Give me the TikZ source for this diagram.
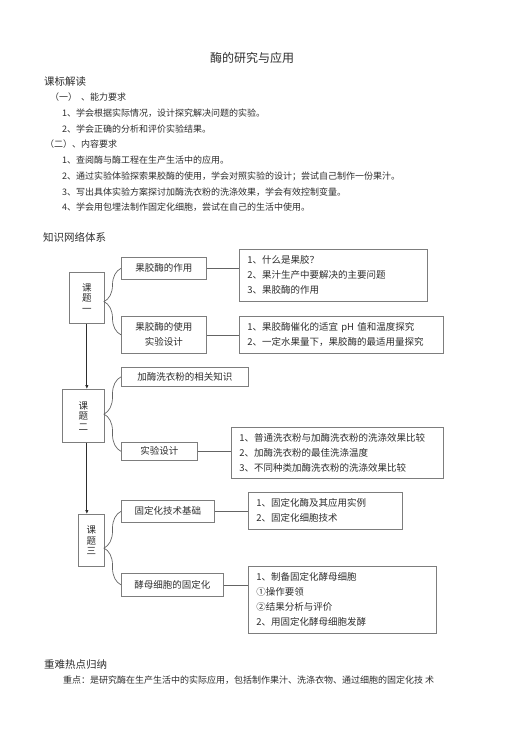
\documentclass[tikz,border=0pt]{standalone}
\usepackage{fontspec}
\newfontfamily\cjk{Noto Sans CJK SC}
\usetikzlibrary{arrows.meta,decorations.pathreplacing}
\definecolor{frame}{RGB}{125,125,125}
\definecolor{ink}{RGB}{45,45,45}
\tikzset{
  >={Latex[length=4pt,width=3.5pt]},
  box/.style={draw=frame,line width=0.7pt,font=\cjk\fontsize{9.5}{15}\selectfont,text=ink,
    align=center,anchor=north west,inner sep=0pt},
  list/.style={box,align=left,inner xsep=8pt},
  topic/.style={box,font=\cjk\fontsize{9.5}{10.5}\selectfont},
  link/.style={draw=frame!80!black,line width=0.7pt},
  curly/.style={link,decorate,decoration={brace,amplitude=17pt}},
  flow/.style={->,draw=ink,line width=0.8pt},
  txt/.style={font=\cjk\fontsize{9}{10}\selectfont,text=ink,anchor=west,inner sep=0pt},
  head/.style={font=\cjk\fontsize{10.5}{12}\selectfont,text=ink,anchor=west,inner sep=0pt},
}

\begin{document}
\begin{tikzpicture}[x=1pt,y=-1pt]
  \useasboundingbox (0,0) rectangle (506,745);
  % text above
  \node[font=\cjk\fontsize{12}{14}\selectfont,text=ink] (title) at (252,58) {酶的研究与应用};
  \node[head] (h1) at (44,82) {课标解读};
  \node[txt] (s1) at (50,97) {（一）\ \ 、能力要求};
  \node[txt] (s11) at (62,113) {1、学会根据实际情况，设计探究解决问题的实验。};
  \node[txt] (s12) at (62,129) {2、学会正确的分析和评价实验结果。};
  \node[txt] (s2) at (45,144) {（二）、内容要求};
  \node[txt] (s21) at (62,160) {1、查阅酶与酶工程在生产生活中的应用。};
  \node[txt] (s22) at (62,176) {2、通过实验体验探索果胶酶的使用，学会对照实验的设计；尝试自己制作一份果汁。};
  \node[txt] (s23) at (62,192) {3、写出具体实验方案探讨加酶洗衣粉的洗涤效果，学会有效控制变量。};
  \node[txt] (s24) at (62,207) {4、学会用包埋法制作固定化细胞，尝试在自己的生活中使用。};
  \node[head] (h2) at (43,237) {知识网络体系};

  % topic one
  \node[topic,minimum width=35,minimum height=51] (t1) at (69,272) {课\\题\\一};
  \node[box,minimum width=85,minimum height=22] (p1) at (121,257) {果胶酶的作用};
  \node[box,minimum width=85,minimum height=37] (p2) at (121,316) {果胶酶的使用\\实验设计};
  \node[list,text width=172,minimum height=52] (p1d) at (239,249)
    {1、什么是果胶？\\2、果汁生产中要解决的主要问题\\3、果胶酶的作用};
  \node[list,text width=188,minimum height=37] (p2d) at (239,316)
    {1、果胶酶催化的适宜 pH 值和温度探究\\2、一定水果量下，果胶酶的最适用量探究};
  \draw[curly] (p2.west) -- (p1.west);
  \draw[link] (p1.east) -- (p1.east -| p1d.west);
  \draw[link] (p2.east) -- (p2.east -| p2d.west);

  % topic two
  \node[topic,minimum width=42,minimum height=53] (t2) at (62,389) {课\\题\\二};
  \node[box,minimum width=127,minimum height=19] (w1) at (121,367) {加酶洗衣粉的相关知识};
  \node[box,minimum width=76,minimum height=18] (w2) at (121,442) {实验设计};
  \node[list,text width=196,minimum height=51] (w2d) at (231,427)
    {1、普通洗衣粉与加酶洗衣粉的洗涤效果比较\\2、加酶洗衣粉的最佳洗涤温度\\3、不同种类加酶洗衣粉的洗涤效果比较};
  \draw[curly] (w2.west) -- (w1.west);
  \draw[link] (w2.east) -- (w2.east -| w2d.west);

  % topic three
  \node[topic,minimum width=26,minimum height=52] (t3) at (78,514) {课\\题\\三};
  \node[box,minimum width=93,minimum height=22] (g1) at (121,500) {固定化技术基础};
  \node[box,minimum width=102,minimum height=23] (g2) at (121,573) {酵母细胞的固定化};
  \node[list,text width=138,minimum height=37] (g1d) at (248,492)
    {1、固定化酶及其应用实例\\2、固定化细胞技术};
  \node[list,text width=172,minimum height=67] (g2d) at (248,566)
    {1、制备固定化酵母细胞\\①操作要领\\②结果分析与评价\\2、用固定化酵母细胞发酵};
  \draw[curly] (g2.west) -- (g1.west);
  \draw[link] (g1.east) -- (g1.east -| g1d.west);
  \draw[link] (g2.east) -- (g2.east -| g2d.west);

  \draw[flow] (t1.south) -- (t1.south |- t2.north);
  \draw[flow] (t1.south |- t2.south) -- (t1.south |- t3.north);

  % text below
  \node[head] (h3) at (44,665) {重难热点归纳};
  \node[txt] (k1) at (63,680) {重点：是研究酶在生产生活中的实际应用，包括制作果汁、洗涤衣物、通过细胞的固定化技\ 术};
\end{tikzpicture}
\end{document}
